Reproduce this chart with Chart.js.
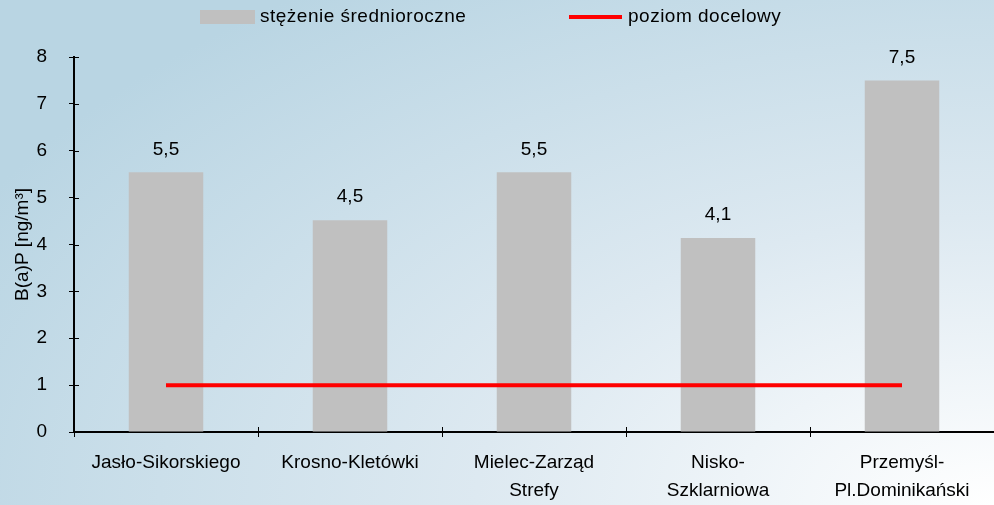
<!doctype html>
<html lang="pl">
<head>
  <meta charset="utf-8" />
  <title>B(a)P</title>
  <script src="https://cdn.jsdelivr.net/npm/chart.js@4"></script>
  <style>
    html, body { margin: 0; padding: 0; }
    #wrap {
      position: relative; width: 994px; height: 505px;
      background: radial-gradient(ellipse 1150px 640px at 100% 100%, #ffffff 0%, #dde9f1 45%, #b9d5e3 100%);
      font-family: "Liberation Sans", Arial, sans-serif;
    }
    #legend { position: absolute; top: 5px; left: 0; width: 994px; height: 24px; font-size: 19px; color: #000; letter-spacing: 0.5px; }
    .lg { position: absolute; top: 0; line-height: 22px; white-space: nowrap; }
    .box { display: inline-block; vertical-align: middle; width: 55px; height: 14px; background: #c0c0c0; margin-right: 5px; }
    .ln { display: inline-block; vertical-align: middle; width: 53px; height: 4px; background: #ff0000; margin-right: 6px; }
  </style>
</head>
<body>
<div id="wrap">
  <div id="legend">
    <span class="lg" style="left:200px"><span class="box"></span>stężenie średnioroczne</span>
    <span class="lg" style="left:569px"><span class="ln"></span>poziom docelowy</span>
  </div>
  <canvas id="myChart" width="994" height="505"></canvas>
</div>

<script>
// stacje pomiarowe
var stations = [
  'Jasło-Sikorskiego',
  'Krosno-Kletówki',
  ['Mielec-Zarząd', 'Strefy'],
  ['Nisko-', 'Szklarniowa'],
  ['Przemyśl-', 'Pl.Dominikański']
];
// stężenie średnioroczne B(a)P [ng/m3]
var avgConc = [5.54, 4.52, 5.54, 4.14, 7.5];
// poziom docelowy
var targetLevel = [1, 1, 1, 1, 1];
var yTicks = [0, 1, 2, 3, 4, 5, 6, 7, 8];

var FONT = "'Liberation Sans', Arial, sans-serif";

// etykiety nad słupkami (5,5 itd.)
var valueLabels = {
  id: 'valueLabels',
  afterDatasetsDraw: function (chart) {
    var ctx = chart.ctx;
    var meta = chart.getDatasetMeta(1);
    ctx.save();
    ctx.font = '19px ' + FONT;
    ctx.fillStyle = '#000';
    ctx.textAlign = 'center';
    ctx.textBaseline = 'middle';
    meta.data.forEach(function (bar, i) {
      var txt = avgConc[i].toFixed(1).replace('.', ',');
      ctx.fillText(txt, bar.x, bar.y - 23);
    });
    ctx.restore();
  }
};

// kreski podziałki po wewnętrznej stronie osi
var innerTicks = {
  id: 'innerTicks',
  afterDraw: function (chart) {
    var ctx = chart.ctx, a = chart.chartArea;
    var ys = chart.scales.y;
    ctx.save();
    ctx.strokeStyle = '#000';
    ctx.lineWidth = 1;
    ys.ticks.forEach(function (t, i) {
      var y = Math.round(ys.getPixelForTick(i)) + 0.5;
      ctx.beginPath(); ctx.moveTo(a.left, y); ctx.lineTo(a.left + 5, y); ctx.stroke();
    });
    var n = stations.length;
    for (var i = 1; i < n; i++) {
      var x = Math.round(a.left + i * (a.right - a.left) / n) + 0.5;
      ctx.beginPath(); ctx.moveTo(x, a.bottom); ctx.lineTo(x, a.bottom - 5); ctx.stroke();
    }
    ctx.restore();
  }
};

Chart.defaults.font.family = FONT;
Chart.defaults.color = '#000';

const ctx = document.getElementById('myChart');
const myChart = new Chart(ctx, {
  data: {
    labels: stations,
    datasets: [
      {
        type: 'line',
        label: 'poziom docelowy',
        data: targetLevel,
        borderColor: '#ff0000',
        backgroundColor: '#ff0000',
        borderWidth: 4,
        pointRadius: 0,
        order: 0
      },
      {
        type: 'bar',
        label: 'stężenie średnioroczne',
        data: avgConc,
        backgroundColor: '#c0c0c0',
        borderWidth: 0,
        barPercentage: 0.405,
        categoryPercentage: 1,
        order: 1
      }
    ]
  },
  options: {
    responsive: false,
    animation: false,
    layout: { padding: { top: 57, left: 4, right: 0, bottom: 0 } },
    plugins: {
      legend: { display: false },
      tooltip: { enabled: false }
    },
    scales: {
      x: {
        offset: true,
        afterFit: function (scale) { scale.height = 73; },
        grid: { offset: true, drawOnChartArea: false, tickLength: 5, color: '#000', tickWidth: 1 },
        border: { color: '#000', width: 2 },
        ticks: { font: { size: 19, lineHeight: 1.47 }, padding: 12, maxRotation: 0, autoSkip: false }
      },
      y: {
        min: 0,
        max: 8,
        afterBuildTicks: function (scale) {
          scale.ticks = yTicks.map(function (v) { return { value: v }; });
        },
        afterFit: function (scale) { scale.width = 70; },
        grid: { drawOnChartArea: false, tickLength: 5, color: '#000', tickWidth: 1 },
        border: { color: '#000', width: 2 },
        ticks: { font: { size: 19 }, padding: 22 },
        title: {
          display: true,
          text: 'B(a)P [ng/m³]',
          font: { size: 19 },
          padding: { top: 7, bottom: 4 }
        }
      }
    }
  },
  plugins: [valueLabels, innerTicks]
});
</script>
</body>
</html>
